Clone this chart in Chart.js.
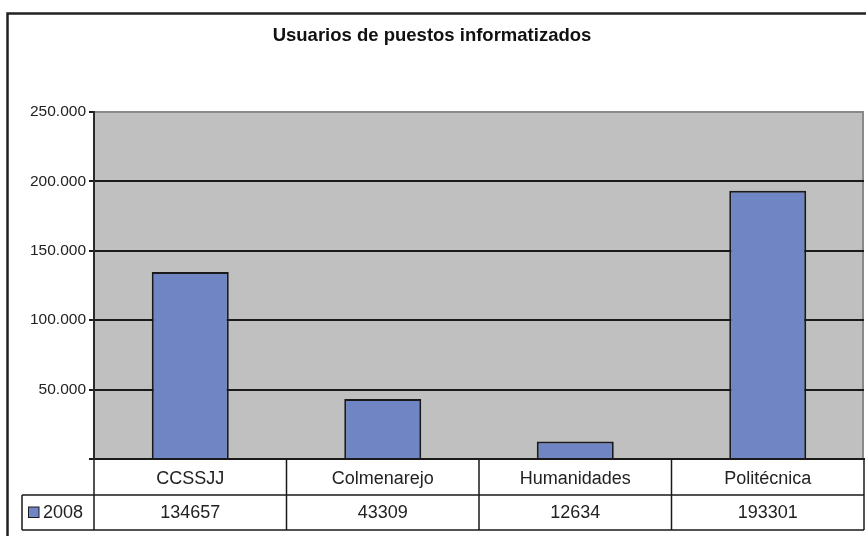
<!DOCTYPE html>
<html>
<head>
<meta charset="utf-8">
<script src="https://cdn.jsdelivr.net/npm/chart.js@4.4.1/dist/chart.umd.min.js"></script>
<style>
  html, body { margin: 0; padding: 0; background: #ffffff; }
  #wrap { width: 866px; height: 536px; position: relative; }
</style>
</head>
<body>
<div id="wrap"><canvas id="c" width="866" height="536"></canvas></div>
<script>
const chartTitle = 'Usuarios de puestos informatizados';
const categories = ['CCSSJJ', 'Colmenarejo', 'Humanidades', 'Politécnica'];
const seriesName = '2008';
const values2008 = [134657, 43309, 12634, 193301];
const yMin = 0;
const yMax = 250000;
const yStep = 50000;

const FONT = '"Liberation Sans", Arial, sans-serif';
const BAR_COLOR = '#7086C4';
const TEXT_COLOR = '#222222';

function fmtThousands(v) {
  return String(v).replace(/\B(?=(\d{3})+(?!\d))/g, '.');
}

const framePlugin = {
  id: 'frame',
  beforeDraw(chart) {
    const ctx = chart.ctx;
    const ca = chart.chartArea;
    ctx.save();
    ctx.fillStyle = '#ffffff';
    ctx.fillRect(0, 0, chart.width, chart.height);
    // outer frame
    ctx.strokeStyle = '#222222';
    ctx.lineWidth = 2.5;
    ctx.strokeRect(7.5, 13.5, chart.width + 20, chart.height + 20);
    // plot area background
    ctx.fillStyle = '#C0C0C0';
    ctx.fillRect(ca.left, ca.top, ca.right - ca.left, ca.bottom - ca.top);
    // right border of plot area
    ctx.strokeStyle = '#8a8a8a';
    ctx.lineWidth = 2;
    ctx.beginPath();
    ctx.moveTo(ca.right - 1, ca.top);
    ctx.lineTo(ca.right - 1, ca.bottom);
    ctx.stroke();
    ctx.restore();
  }
};

const tablePlugin = {
  id: 'dataTable',
  afterDraw(chart) {
    const ctx = chart.ctx;
    const ca = chart.chartArea;
    const xs = chart.scales.x;
    const n = categories.length;
    const colW = (ca.right - ca.left) / n;
    const row1Bottom = ca.bottom + 36;
    const row2Bottom = row1Bottom + 35;
    const legendLeft = 22;
    ctx.save();
    ctx.strokeStyle = '#1a1a1a';
    ctx.lineWidth = 1.5;
    ctx.beginPath();
    ctx.moveTo(legendLeft, row1Bottom); ctx.lineTo(ca.right, row1Bottom);
    ctx.moveTo(legendLeft, row2Bottom); ctx.lineTo(ca.right, row2Bottom);
    ctx.moveTo(legendLeft, row1Bottom); ctx.lineTo(legendLeft, row2Bottom);
    for (let i = 0; i <= n; i++) {
      const x = ca.left + i * colW;
      ctx.moveTo(x, ca.bottom); ctx.lineTo(x, row2Bottom);
    }
    ctx.stroke();

    const cy = (row1Bottom + row2Bottom) / 2;
    ctx.fillStyle = BAR_COLOR;
    ctx.fillRect(28, cy - 5.5, 11, 11);
    ctx.strokeStyle = '#1a1a1a';
    ctx.lineWidth = 1;
    ctx.strokeRect(28.5, cy - 5.5, 10.5, 10.5);

    ctx.fillStyle = TEXT_COLOR;
    ctx.font = '18px ' + FONT;
    ctx.textBaseline = 'middle';
    ctx.textAlign = 'left';
    ctx.fillText(seriesName, 43, cy + 1);

    ctx.textAlign = 'center';
    values2008.forEach((v, i) => {
      ctx.fillText(String(v), xs.getPixelForValue(i), cy + 1);
    });
    ctx.restore();
  }
};

new Chart(document.getElementById('c'), {
  type: 'bar',
  data: {
    labels: categories,
    datasets: [{
      label: seriesName,
      data: values2008,
      backgroundColor: BAR_COLOR,
      borderColor: '#1a1a1a',
      borderWidth: 2,
      barPercentage: 0.4,
      categoryPercentage: 1.0
    }]
  },
  options: {
    responsive: false,
    animation: false,
    devicePixelRatio: 1,
    layout: { padding: { left: 0, right: 2, top: 0, bottom: 0 } },
    plugins: {
      legend: { display: false },
      tooltip: { enabled: false },
      title: {
        display: true,
        text: chartTitle,
        color: '#111111',
        font: { family: FONT, size: 18.5, weight: 'bold' },
        padding: { top: 25, bottom: 64.8 }
      }
    },
    scales: {
      x: {
        grid: { display: false, drawTicks: false },
        border: { display: true, color: '#1a1a1a', width: 2 },
        ticks: {
          color: TEXT_COLOR,
          font: { family: FONT, size: 18 },
          padding: 9,
          maxRotation: 0,
          autoSkip: false
        },
        afterFit(s) { s.height = 77; }
      },
      y: {
        min: yMin,
        max: yMax,
        ticks: {
          stepSize: yStep,
          color: TEXT_COLOR,
          font: { family: FONT, size: 15.5 },
          padding: 3,
          callback: (v) => v === 0 ? '' : fmtThousands(v)
        },
        grid: {
          drawTicks: true,
          tickLength: 5,
          lineWidth: 2,
          color: (c) => (c.tick && c.tick.value === yMax) ? '#8a8a8a' : '#1a1a1a',
          tickColor: '#1a1a1a'
        },
        border: { display: true, color: '#2a2a2a', width: 2 },
        afterFit(s) { s.width = 94; }
      }
    }
  },
  plugins: [framePlugin, tablePlugin]
});
</script>
</body>
</html>
